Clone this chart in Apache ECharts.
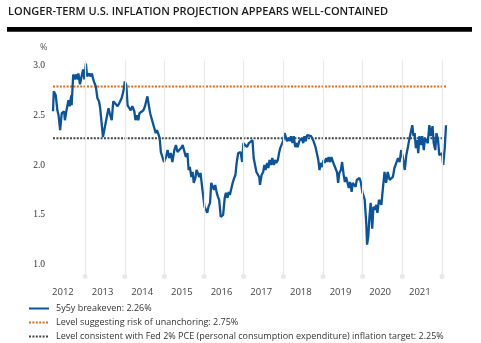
<!DOCTYPE html>
<html><head><meta charset="utf-8">
<script src="https://cdn.jsdelivr.net/npm/echarts@6/dist/echarts.min.js"></script>
<style>html,body{margin:0;padding:0;background:#fff}#c{width:481px;height:343px}</style>
</head><body><div id="c"></div>
<script>
// ---- data ----
const dates = [2012.19,2012.21,2012.26,2012.30,2012.33,2012.37,2012.41,2012.47,2012.49,2012.53,2012.58,2012.61,2012.65,2012.66,2012.70,2012.74,2012.77,2012.81,2012.83,2012.87,2012.91,2012.95,2012.98,2013.02,2013.05,2013.10,2013.13,2013.17,2013.22,2013.27,2013.31,2013.35,2013.38,2013.41,2013.45,2013.49,2013.54,2013.59,2013.62,2013.67,2013.71,2013.76,2013.82,2013.86,2013.92,2013.97,2014.00,2014.04,2014.07,2014.11,2014.15,2014.19,2014.24,2014.27,2014.31,2014.34,2014.37,2014.42,2014.47,2014.51,2014.54,2014.57,2014.61,2014.64,2014.67,2014.71,2014.74,2014.78,2014.81,2014.84,2014.88,2014.91,2014.95,2014.99,2015.04,2015.08,2015.12,2015.16,2015.20,2015.25,2015.29,2015.33,2015.37,2015.42,2015.46,2015.50,2015.54,2015.58,2015.61,2015.64,2015.68,2015.71,2015.74,2015.78,2015.81,2015.85,2015.88,2015.91,2015.95,2015.98,2016.01,2016.05,2016.08,2016.11,2016.15,2016.18,2016.21,2016.25,2016.28,2016.32,2016.35,2016.38,2016.42,2016.45,2016.48,2016.52,2016.55,2016.59,2016.62,2016.65,2016.69,2016.72,2016.76,2016.79,2016.82,2016.86,2016.89,2016.92,2016.96,2016.99,2017.02,2017.08,2017.13,2017.18,2017.22,2017.25,2017.29,2017.32,2017.35,2017.39,2017.41,2017.45,2017.49,2017.52,2017.55,2017.59,2017.62,2017.65,2017.69,2017.72,2017.76,2017.79,2017.82,2017.86,2017.89,2017.92,2017.96,2017.99,2018.03,2018.06,2018.09,2018.13,2018.16,2018.19,2018.23,2018.26,2018.30,2018.33,2018.36,2018.40,2018.43,2018.46,2018.50,2018.53,2018.56,2018.60,2018.65,2018.70,2018.76,2018.81,2018.84,2018.88,2018.91,2018.94,2018.98,2019.01,2019.04,2019.08,2019.11,2019.14,2019.18,2019.21,2019.24,2019.28,2019.31,2019.35,2019.38,2019.41,2019.45,2019.48,2019.52,2019.55,2019.58,2019.62,2019.65,2019.68,2019.72,2019.75,2019.79,2019.82,2019.85,2019.89,2019.92,2019.95,2019.99,2020.02,2020.05,2020.09,2020.11,2020.14,2020.17,2020.20,2020.24,2020.27,2020.31,2020.34,2020.37,2020.41,2020.44,2020.47,2020.51,2020.55,2020.59,2020.63,2020.68,2020.72,2020.76,2020.80,2020.84,2020.89,2020.93,2020.97,2021.01,2021.06,2021.10,2021.14,2021.18,2021.22,2021.25,2021.28,2021.31,2021.34,2021.37,2021.40,2021.43,2021.47,2021.50,2021.54,2021.57,2021.60,2021.64,2021.68,2021.72,2021.76,2021.79,2021.83,2021.86,2021.90,2021.93,2021.96,2022.00,2022.03,2022.07,2022.10];
const breakeven = [2.54,2.74,2.70,2.55,2.50,2.35,2.52,2.54,2.45,2.55,2.65,2.59,2.70,2.60,2.91,2.86,2.91,2.86,2.92,2.81,2.89,2.96,2.86,3.02,2.89,2.92,2.89,2.92,2.84,2.79,2.67,2.64,2.57,2.59,2.28,2.29,2.47,2.57,2.52,2.45,2.64,2.62,2.59,2.62,2.67,2.75,2.84,2.80,2.60,2.62,2.55,2.59,2.54,2.45,2.50,2.45,2.52,2.54,2.55,2.59,2.57,2.69,2.59,2.52,2.54,2.42,2.44,2.32,2.35,2.32,2.27,2.13,2.15,2.03,2.08,2.15,2.07,2.12,2.03,2.15,2.20,2.13,2.12,2.17,2.20,2.18,2.08,2.12,1.95,1.98,1.88,1.93,1.82,1.87,1.95,1.93,1.88,1.92,1.78,1.77,1.58,1.57,1.52,1.58,1.62,1.82,1.83,1.75,1.80,1.72,1.68,1.65,1.48,1.46,1.50,1.67,1.72,1.67,1.73,1.70,1.77,1.82,1.87,1.90,2.02,2.12,2.10,2.13,2.03,2.22,2.20,2.18,2.22,2.20,2.25,2.07,2.05,1.93,1.95,1.88,1.80,1.90,1.93,2.00,1.95,2.02,1.97,2.05,2.00,2.07,2.00,2.05,2.02,2.05,2.12,2.17,2.15,2.24,2.32,2.34,2.24,2.27,2.24,2.29,2.22,2.29,2.18,2.22,2.18,2.24,2.22,2.27,2.22,2.29,2.24,2.30,2.32,2.29,2.24,2.18,2.17,2.05,1.95,2.02,1.98,2.05,2.02,2.07,2.03,2.08,2.03,2.08,2.10,2.00,1.97,1.93,1.82,1.92,1.95,2.03,1.90,1.83,1.88,1.90,1.77,1.83,1.73,1.82,1.83,1.78,1.85,1.87,1.87,1.83,1.73,1.72,1.65,1.41,1.20,1.28,1.48,1.62,1.36,1.58,1.55,1.60,1.52,1.65,1.67,1.60,1.77,1.93,1.82,1.93,1.85,1.85,1.88,1.97,1.98,2.07,2.03,2.15,2.08,1.95,2.10,2.18,2.27,2.29,2.40,2.29,2.32,2.17,2.25,2.12,2.29,2.20,2.29,2.15,2.27,2.25,2.22,2.40,2.29,2.39,2.22,2.15,2.32,2.25,2.10,2.08,2.12,2.00,2.18,2.40];
const riskLevel = 2.79;     // drawn position of the 2.75% line
const targetLevel = 2.27;   // drawn position of the 2.25% line
const yearLabels = [2012,2013,2014,2015,2016,2017,2018,2019,2020,2021];
const gridYears = [2013,2014,2015,2016,2017,2018,2019,2020,2021,2022];
const yTicks = [1.0,1.5,2.0,2.5,3.0];
const titleText = 'LONGER-TERM U.S. INFLATION PROJECTION APPEARS WELL-CONTAINED';
const legendNames = ['5y5y breakeven: 2.26%','Level suggesting risk of unanchoring: 2.75%','Level consistent with Fed 2% PCE (personal consumption expenditure) inflation target: 2.25%'];

// ---- chart ----
const titleFont = '600 11.5px "Open Sans", sans-serif';
const cv = document.createElement('canvas').getContext('2d');
cv.font = titleFont;
const titleScale = 380 / cv.measureText(titleText).width;

const chart = echarts.init(document.getElementById('c'), null, {renderer:'canvas'});
const xMin = dates[0], xMax = dates[dates.length-1];
const lineData = dates.map((d,i)=>[d, breakeven[i]]);

chart.setOption({
  animation:false,
  backgroundColor:'#fff',
  grid:{left:53, right:35, top:60.5, bottom:66.5, containLabel:false},
  xAxis:{type:'value', min:xMin, max:xMax,
    axisLine:{show:false}, axisTick:{show:false}, splitLine:{show:false},
    axisLabel:{customValues: yearLabels.map(y=>y+0.44), formatter:v=>String(Math.floor(v+0.001)),
      color:'#444', fontSize:9.5, fontFamily:'"Open Sans", sans-serif', margin:11}},
  yAxis:{type:'value', min:0.88, max:3.05,
    axisLine:{show:false}, axisTick:{show:false}, splitLine:{show:false},
    axisLabel:{customValues: yTicks, formatter:v=>v.toFixed(1),
      color:'#333', fontSize:9.5, fontFamily:'"Liberation Serif", serif', margin:8}},
  legend:{orient:'vertical', left:28, top:304, height:80, width:460, padding:0,
    itemWidth:20, itemHeight:10, itemGap:5,
    data:legendNames, selectedMode:false,
    itemStyle:{opacity:0, borderWidth:0},
    textStyle:{fontSize:9, color:'#333', fontFamily:'"Open Sans", sans-serif', padding:[0,0,0,2]}},
  graphic:[
    {type:'text', x:8, y:11.5, scaleX:titleScale, style:{text:titleText, font:titleFont, fill:'#1a1a1a', verticalAlign:'middle'}},
    {type:'rect', shape:{x:7, y:27, width:465, height:4.7}, style:{fill:'#000'}},
    {type:'text', x:40, y:47, style:{text:'%', font:'9px "Open Sans", sans-serif', fill:'#555', verticalAlign:'middle'}}
  ],
  series:[
    {type:'line', name:'grid', data:[], silent:true, z:1,
      markLine:{silent:true, symbol:['circle','none'], symbolSize:5, label:{show:false},
        lineStyle:{color:'#e8e8e8', width:1.2, type:'solid'}, emphasis:{disabled:true},
        data: gridYears.map(y=>({xAxis:y}))}},
    {type:'line', name:legendNames[1], data:[[xMin,riskLevel],[xMax,riskLevel]], showSymbol:false, symbol:'none', z:3,
      lineStyle:{color:'#e06a1b', width:2, type:[2,1.4]}, itemStyle:{color:'#e06a1b'}},
    {type:'line', name:legendNames[2], data:[[xMin,targetLevel],[xMax,targetLevel]], showSymbol:false, symbol:'none', z:3,
      lineStyle:{color:'#444', width:2, type:[2,1.4]}, itemStyle:{color:'#444'}},
    {type:'line', name:legendNames[0], data:lineData, showSymbol:false, symbol:'none', z:4,
      lineStyle:{color:'#0b539b', width:2.3}, itemStyle:{color:'#0b539b'}}
  ]
});
</script></body></html>
